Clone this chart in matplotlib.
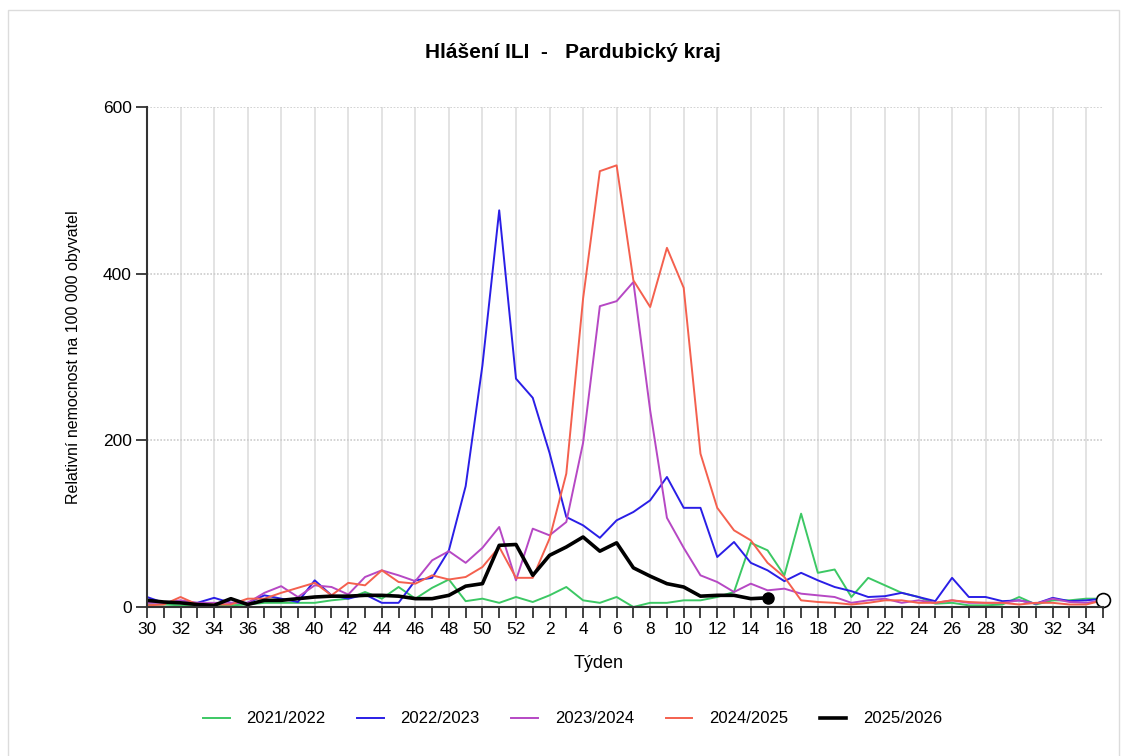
import matplotlib
matplotlib.use("Agg")
import matplotlib.pyplot as plt
from matplotlib.patches import Rectangle
from matplotlib.ticker import MultipleLocator

plt.rcParams['font.family'] = ['Liberation Sans', 'DejaVu Sans']

# week axis: 30..52, then 1..35
weeks = list(range(30, 53)) + list(range(1, 36))
x = list(range(len(weeks)))

s2122 = [3, 3, 2, 2, 2, 2, 3, 5, 5, 5, 5, 8, 10, 18, 10, 24, 10, 23, 33, 7, 10, 5, 12,
         6, 14, 24, 8, 5, 12, 0, 5, 5, 8, 8, 12, 18, 77, 68, 38, 112, 41, 45, 12, 35, 26,
         17, 12, 4, 5, 2, 2, 3, 12, 3, 8, 8, 10, 10]
s2223 = [12, 5, 5, 5, 11, 5, 5, 14, 10, 6, 32, 14, 10, 15, 5, 5, 32, 35, 68, 145, 290, 476, 274,
         251, 185, 108, 98, 83, 104, 114, 128, 156, 119, 119, 60, 78, 53, 44, 31, 41, 32, 24,
         19, 12, 13, 17, 12, 7, 35, 12, 12, 7, 8, 4, 11, 7, 8, 10]
s2324 = [5, 5, 8, 5, 5, 5, 5, 17, 25, 12, 26, 24, 15, 36, 44, 38, 31, 56, 67, 53, 71, 96, 32,
         94, 86, 102, 197, 361, 367, 390, 236, 107, 71, 38, 30, 18, 28, 20, 22, 16, 14, 12,
         5, 8, 10, 5, 8, 5, 8, 5, 5, 5, 8, 4, 10, 6, 5, 8]
s2425 = [2, 3, 12, 3, 3, 3, 10, 10, 17, 23, 29, 14, 29, 26, 44, 30, 28, 38, 33, 36, 48, 72, 35,
         35, 82, 160, 370, 523, 530, 392, 360, 431, 383, 184, 119, 92, 80, 53, 36, 8, 6, 5,
         3, 5, 8, 8, 5, 5, 8, 6, 5, 5, 3, 5, 5, 3, 3, 8]
s2526 = [8, 6, 5, 3, 2, 10, 3, 8, 8, 10, 12, 13, 13, 14, 14, 13, 10, 10, 14, 25, 28, 74, 75,
         38, 62, 72, 84, 67, 77, 47, 37, 28, 24, 13, 14, 14, 10, 11]

seasons = ['2021/2022', '2022/2023', '2023/2024', '2024/2025', '2025/2026']
colors = ['#3cc864', '#2a1ee6', '#b648c4', '#f4604e', '#000000']

fig = plt.figure(figsize=(11.27, 7.56), dpi=100)
fig.patches.append(Rectangle((8 / 1127, -0.01), 1111 / 1127, 1 - 10 / 756 + 0.01,
                             transform=fig.transFigure, fill=False,
                             edgecolor='#dcdcdc', linewidth=1))
ax = fig.add_axes([147 / 1127, 149 / 756, 956 / 1127, 500 / 756])

ax.plot(x, s2122, color=colors[0], lw=1.4, label=seasons[0])
ax.plot(x, s2223, color=colors[1], lw=1.4, label=seasons[1])
ax.plot(x, s2324, color=colors[2], lw=1.4, label=seasons[2])
ax.plot(x, s2425, color=colors[3], lw=1.4, label=seasons[3])
ax.plot(x[:len(s2526)], s2526, color=colors[4], lw=2.6, label=seasons[4])
ax.plot(x[len(s2526) - 1], s2526[-1], 'o', color='black', ms=8)
ax.plot(x[-1], s2425[-1], 'o', mfc='white', mec='black', mew=1.2, ms=10, clip_on=False)

ax.set_xlim(0, len(weeks) - 1)
ax.set_ylim(0, 600)

ax.set_xticks(x[::2])
ax.set_xticklabels([str(w) for w in weeks[::2]])
ax.xaxis.set_minor_locator(MultipleLocator(1))
ax.set_yticks([0, 200, 400, 600])

for xi in x[2::2]:
    ax.axvline(xi, color='#dedede', lw=1.2, zorder=0)
for yv in [200, 400, 600]:
    ax.axhline(yv, color='#cccccc', lw=1.2, ls=(0, (1, 1)), zorder=0)

for side in ['top', 'right']:
    ax.spines[side].set_visible(False)
for side in ['left', 'bottom']:
    ax.spines[side].set_color('#333333')
    ax.spines[side].set_linewidth(1.5)

ax.tick_params(axis='x', which='both', direction='out', length=8, width=1.3,
               color='#333333', labelsize=12.5, pad=3)
ax.tick_params(axis='y', direction='out', length=8, width=1.3, color='#333333',
               labelsize=12.5, pad=3)

ax.set_ylabel('Relativní nemocnost na 100 000 obyvatel', fontsize=11.5, labelpad=16)
ax.set_xlabel('Týden', fontsize=13)
ax.xaxis.set_label_coords(0.472, -0.095)

fig.text(0.508, 0.931, 'Hlášení ILI  -   Pardubický kraj', ha='center', va='center',
         fontsize=15, fontweight='bold')

fig.legend(loc='center', bbox_to_anchor=(0.508, 0.049), ncol=5, frameon=False,
           fontsize=12, handlelength=1.6, handletextpad=1.0, columnspacing=1.9)

fig.savefig('out.png', dpi=100)
